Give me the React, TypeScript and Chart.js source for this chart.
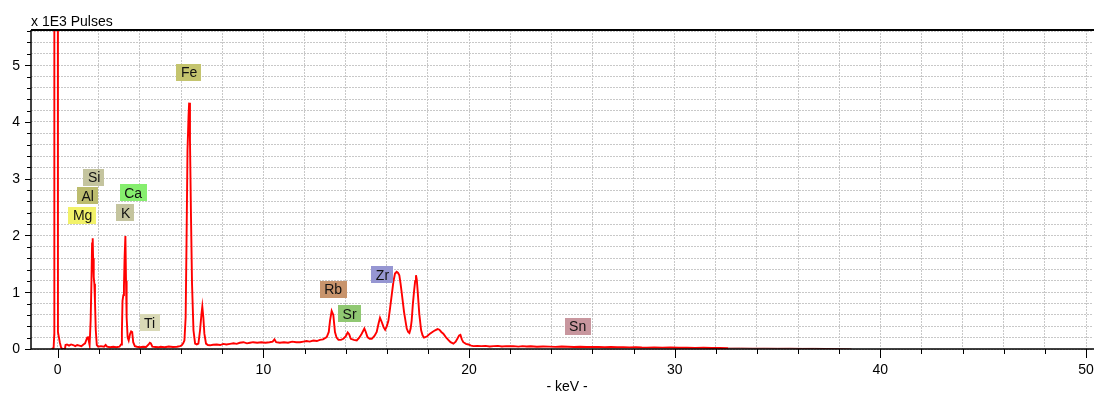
import React, { useEffect, useRef } from "react";
import { Chart, registerables } from "chart.js";

Chart.register(...registerables);

// ---- data (keV, x 1E3 pulses) ----
const zeroPeak: [number, number][] = [
  [-0.3, 0], [-0.2, 0.02], [-0.17, 0.25], [-0.165, 12], [0.0, 12], [0.01, 0.3],
  [0.06, 0.2], [0.1, 0.12], [0.16, 0.03], [0.22, 0.0], [0.35, 0.0],
];

const lightElements: [number, number][] = [
  [0.38, 0.07], [0.45, 0.08], [0.55, 0.06], [0.65, 0.08], [0.75, 0.07], [0.85, 0.05],
  [0.95, 0.07], [1.05, 0.06], [1.15, 0.05], [1.25, 0.08], [1.33, 0.1], [1.38, 0.15],
  [1.43, 0.2], [1.47, 0.22], [1.51, 0.14], [1.55, 0.07], [1.6, 0.5], [1.64, 1.2],
  [1.67, 1.86], [1.7, 1.95], [1.72, 1.6], [1.75, 1.27], [1.78, 1.15], [1.81, 0.85],
  [1.85, 0.33], [1.9, 0.07], [1.97, 0.04], [2.1, 0.05], [2.25, 0.04], [2.33, 0.07],
  [2.4, 0.04], [2.55, 0.03], [2.7, 0.04], [2.85, 0.03], [3.0, 0.04], [3.08, 0.08],
  [3.12, 0.3], [3.15, 0.85], [3.19, 0.95], [3.22, 1.1], [3.25, 1.6], [3.29, 1.99],
  [3.32, 1.2], [3.35, 0.56], [3.4, 0.2], [3.45, 0.15], [3.52, 0.27], [3.57, 0.31],
  [3.62, 0.3], [3.67, 0.12], [3.75, 0.05], [3.85, 0.04], [4.0, 0.03], [4.15, 0.04],
  [4.3, 0.035], [4.42, 0.08], [4.48, 0.11], [4.53, 0.1], [4.6, 0.04], [4.75, 0.035],
  [4.9, 0.03],
];

const ironRegion: [number, number][] = [
  [5.0, 0.04], [5.2, 0.03], [5.4, 0.045], [5.6, 0.035], [5.8, 0.04], [5.95, 0.05],
  [6.03, 0.065], [6.1, 0.1], [6.16, 0.15], [6.22, 0.56], [6.26, 1.8], [6.31, 3.5],
  [6.36, 4.1], [6.39, 4.34], [6.43, 3.68], [6.48, 2.33], [6.53, 1.15], [6.6, 0.33],
  [6.68, 0.095], [6.76, 0.08], [6.84, 0.095], [6.92, 0.33], [6.99, 0.62], [7.03, 0.75],
  [7.08, 0.56], [7.13, 0.27], [7.21, 0.095], [7.3, 0.07], [7.41, 0.065], [7.55, 0.075],
  [7.73, 0.08], [7.9, 0.07],
];

const midRegion: [number, number][] = [
  [8.05, 0.09], [8.2, 0.08], [8.38, 0.09], [8.55, 0.1], [8.7, 0.09], [8.85, 0.11],
  [9.03, 0.12], [9.2, 0.1], [9.35, 0.11], [9.5, 0.12], [9.7, 0.11], [9.9, 0.12],
  [10.1, 0.11], [10.3, 0.12], [10.45, 0.13], [10.54, 0.17], [10.62, 0.12], [10.8, 0.11],
  [11.0, 0.12], [11.2, 0.11], [11.4, 0.13], [11.6, 0.12], [11.78, 0.12], [11.95, 0.13],
  [12.1, 0.14], [12.25, 0.13], [12.43, 0.15], [12.6, 0.14], [12.75, 0.16], [12.9, 0.17],
  [13.08, 0.21],
];

const heavyElements: [number, number][] = [
  [13.18, 0.3], [13.24, 0.5], [13.32, 0.67], [13.4, 0.6], [13.48, 0.3], [13.56, 0.2],
  [13.65, 0.16], [13.77, 0.16], [13.89, 0.18], [14.0, 0.22], [14.1, 0.29], [14.17, 0.26],
  [14.25, 0.18], [14.4, 0.16], [14.54, 0.15], [14.66, 0.2], [14.78, 0.27], [14.91, 0.36],
  [14.98, 0.3], [15.06, 0.21], [15.17, 0.18], [15.27, 0.18], [15.4, 0.23], [15.51, 0.3],
  [15.6, 0.45], [15.67, 0.55], [15.75, 0.48], [15.85, 0.38], [15.92, 0.34], [16.0, 0.4],
  [16.08, 0.5], [16.16, 0.72], [16.24, 0.95], [16.32, 1.18], [16.4, 1.33], [16.48, 1.36],
  [16.55, 1.34], [16.61, 1.3], [16.67, 1.15], [16.73, 0.98], [16.84, 0.65], [16.97, 0.36],
  [17.04, 0.3], [17.1, 0.28], [17.16, 0.36], [17.21, 0.5], [17.27, 0.8], [17.33, 1.03],
  [17.38, 1.2], [17.42, 1.3], [17.46, 1.22], [17.5, 1.03], [17.58, 0.62], [17.67, 0.33],
  [17.74, 0.24], [17.81, 0.2], [17.95, 0.22], [18.1, 0.27], [18.22, 0.3], [18.35, 0.33],
  [18.47, 0.35], [18.56, 0.34], [18.65, 0.3], [18.75, 0.27], [18.87, 0.21], [18.99, 0.16],
  [19.1, 0.12], [19.24, 0.095], [19.35, 0.13], [19.43, 0.18], [19.52, 0.24], [19.58, 0.25],
  [19.65, 0.17], [19.72, 0.12], [19.85, 0.09], [19.97, 0.08], [20.1, 0.06], [20.21, 0.05],
];

const tailRegion: [number, number][] = [
  [20.4, 0.055], [20.6, 0.05], [20.8, 0.055], [21.0, 0.045], [21.2, 0.05], [21.4, 0.055],
  [21.6, 0.045], [21.8, 0.05], [22.0, 0.048], [22.15, 0.05], [22.4, 0.042], [22.6, 0.05],
  [22.8, 0.045], [23.0, 0.048], [23.3, 0.04], [23.6, 0.045], [23.9, 0.042], [24.2, 0.038],
  [24.5, 0.044], [24.8, 0.04], [25.1, 0.036], [25.4, 0.04], [25.7, 0.034], [26.0, 0.038],
  [26.3, 0.035], [26.6, 0.03], [26.9, 0.034], [27.2, 0.03], [27.5, 0.032], [27.8, 0.028],
  [28.1, 0.03], [28.4, 0.026], [28.64, 0.025], [29.0, 0.028], [29.4, 0.024], [29.8, 0.026],
  [30.2, 0.022], [30.6, 0.025], [31.0, 0.02], [31.4, 0.022], [31.8, 0.018], [32.2, 0.02],
  [32.6, 0.015], [33.2, 0.016], [33.8, 0.013], [34.4, 0.014], [35.0, 0.012], [35.6, 0.013],
  [36.2, 0.01], [36.8, 0.011], [37.4, 0.008], [38.0, 0.005], [38.6, 0.0],
];

const elementNames = ["Mg", "Al", "Si", "K", "Ca", "Ti", "Fe", "Rb", "Sr", "Zr", "Sn"];
const elementKeV = [1.21, 1.46, 1.77, 3.3, 3.67, 4.47, 6.39, 13.39, 14.19, 15.79, 25.28];
const elementLabelLevel = [2.36, 2.7, 3.03, 2.4, 2.75, 0.46, 4.87, 1.05, 0.62, 1.31, 0.4];

const xRange = [-1.3, 50.34];
const yRange = [0, 5.62];
const xTickStep = 2;
const xLabelStep = 10;
const yTickStep = 0.2;
const yLabelStep = 1;
const yAxisTitle = "x 1E3 Pulses";
const xAxisTitle = "- keV -";

// ---- styles ----
const labelColors: Record<string, string> = {
  Mg: "#f2f26a",
  Al: "#bcbc6e",
  Si: "#c4c49e",
  K: "#c4c49e",
  Ca: "#86ee6e",
  Ti: "#d9d9b6",
  Fe: "#c4c46e",
  Rb: "#c8946c",
  Sr: "#90c872",
  Zr: "#9696d2",
  Sn: "#c8969e",
};
const FONT = '14px "Liberation Sans", Arial, sans-serif';

const isMultiple = (v: number, step: number) => {
  const r = Math.abs(v / step - Math.round(v / step));
  return r < 1e-6;
};

const overlayPlugin = {
  id: "overlay",
  afterDraw(chart: any) {
    const { ctx, chartArea: a, scales } = chart;
    const xs = scales.x;
    const ys = scales.y;
    ctx.save();
    ctx.strokeStyle = "#000";
    ctx.fillStyle = "#000";
    // tick marks
    ctx.lineWidth = 1;
    xs.ticks.forEach((t: any) => {
      const px = Math.round(xs.getPixelForValue(t.value)) + 0.5;
      const len = isMultiple(t.value, xLabelStep) ? 9 : 5;
      ctx.beginPath();
      ctx.moveTo(px, a.bottom);
      ctx.lineTo(px, a.bottom + len);
      ctx.stroke();
    });
    ys.ticks.forEach((t: any) => {
      const py = Math.round(ys.getPixelForValue(t.value)) + 0.5;
      const len = isMultiple(t.value, yLabelStep) ? 6 : 4;
      ctx.beginPath();
      ctx.moveTo(a.left - len, py);
      ctx.lineTo(a.left, py);
      ctx.stroke();
    });
    // axis lines
    ctx.lineWidth = 1.5;
    ctx.beginPath();
    ctx.moveTo(a.left, a.bottom);
    ctx.lineTo(chart.width, a.bottom);
    ctx.stroke();
    ctx.beginPath();
    ctx.moveTo(a.left, a.top);
    ctx.lineTo(a.left, a.bottom);
    ctx.stroke();
    ctx.lineWidth = 2;
    ctx.beginPath();
    ctx.moveTo(a.left, a.top);
    ctx.lineTo(chart.width, a.top);
    ctx.stroke();
    // tick labels
    ctx.font = FONT;
    ctx.textAlign = "center";
    ctx.textBaseline = "alphabetic";
    xs.ticks.forEach((t: any) => {
      if (!isMultiple(t.value, xLabelStep)) return;
      ctx.fillText(String(Math.round(t.value)), xs.getPixelForValue(t.value), a.bottom + 24.5);
    });
    ctx.textAlign = "right";
    ctx.textBaseline = "middle";
    ys.ticks.forEach((t: any) => {
      if (!isMultiple(t.value, yLabelStep)) return;
      ctx.fillText(String(Math.round(t.value)), a.left - 11, ys.getPixelForValue(t.value) + 0.5);
    });
    // titles
    ctx.textAlign = "left";
    ctx.textBaseline = "alphabetic";
    ctx.fillText(yAxisTitle, a.left, a.top - 4);
    ctx.textAlign = "center";
    ctx.fillText(xAxisTitle, (a.left + a.right) / 2 + 5, a.bottom + 42);
    // element labels
    ctx.textBaseline = "middle";
    elementNames.forEach((name, i) => {
      const cx = xs.getPixelForValue(elementKeV[i]);
      const cy = ys.getPixelForValue(elementLabelLevel[i]);
      const w = ctx.measureText(name).width + 9;
      const h = 17;
      ctx.fillStyle = labelColors[name] || "#ccc";
      ctx.fillRect(Math.round(cx - w / 2), Math.round(cy - h / 2), Math.round(w), h);
      ctx.fillStyle = "#111";
      ctx.textAlign = "center";
      ctx.fillText(name, cx, cy + 1);
    });
    ctx.restore();
  },
};

export default function App() {
  const ref = useRef<HTMLCanvasElement | null>(null);
  useEffect(() => {
    if (!ref.current) return;
    const points = [
      ...zeroPeak,
      ...lightElements,
      ...ironRegion,
      ...midRegion,
      ...heavyElements,
      ...tailRegion,
    ].map(([x, y]) => ({ x, y }));
    const chart = new Chart(ref.current, {
      type: "line",
      data: {
        datasets: [
          {
            data: points,
            borderColor: "#ff0000",
            borderWidth: 1.9,
            pointRadius: 0,
            tension: 0,
            fill: false,
            segment: {
              borderColor: (c: any) => (c.p0.parsed.x >= 32.4 ? "#b02020" : undefined),
              borderWidth: (c: any) => (c.p0.parsed.x >= 32.4 ? 1 : undefined),
            },
          },
        ],
      },
      options: {
        animation: false,
        responsive: false,
        events: [],
        layout: { padding: { left: 31, top: 30, right: 1, bottom: 45 } },
        plugins: { legend: { display: false }, tooltip: { enabled: false } },
        scales: {
          x: {
            type: "linear",
            min: xRange[0],
            max: xRange[1],
            afterFit: (s: any) => {
              s.height = 0;
            },
            ticks: { display: false, stepSize: xTickStep, includeBounds: false, autoSkip: false },
            grid: { color: "#c8c8c8", lineWidth: 1, drawTicks: false },
            border: { display: false, dash: [2, 1] },
          },
          y: {
            type: "linear",
            min: yRange[0],
            max: yRange[1],
            afterFit: (s: any) => {
              s.width = 0;
            },
            ticks: { display: false, stepSize: yTickStep, includeBounds: false, autoSkip: false },
            grid: { color: "#c8c8c8", lineWidth: 1, drawTicks: false },
            border: { display: false, dash: [2, 1] },
          },
        },
      },
      plugins: [overlayPlugin],
    });
    return () => chart.destroy();
  }, []);
  return (
    <div style={{ position: "absolute", left: 0, top: 0, width: 1094, height: 394, background: "#fff" }}>
      <canvas ref={ref} width={1094} height={394} style={{ display: "block" }} />
    </div>
  );
}
